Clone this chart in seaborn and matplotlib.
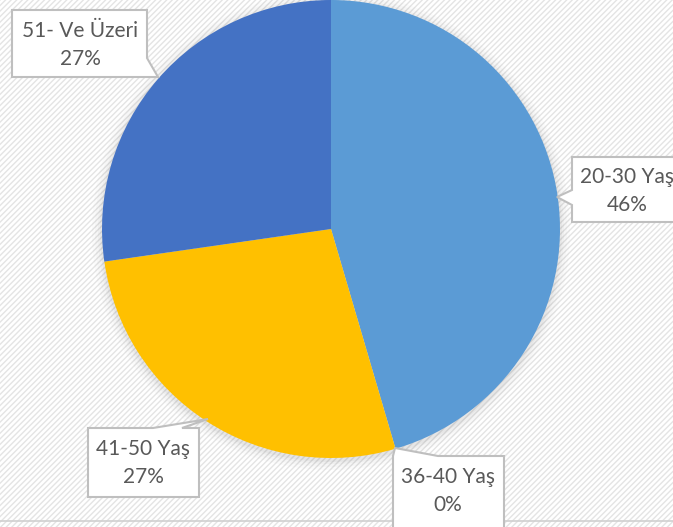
import matplotlib
matplotlib.use("Agg")
import matplotlib.pyplot as plt
import seaborn as sns
from matplotlib.patches import Rectangle, Polygon, Circle

# age groups and counts (shares 46 / 0 / 27 / 27 %)
labels = ["20-30 Yaş", "36-40 Yaş", "41-50 Yaş", "51- Ve Üzeri"]
counts = [5, 0, 3, 3]
pct_text = ["46%", "0%", "27%", "27%"]
colors = ["#5B9BD5", "#ED7D31", "#FFC000", "#4472C4"]

sns.set_theme(style="white")
plt.rcParams["font.family"] = ["Lato", "DejaVu Sans"]
plt.rcParams["hatch.linewidth"] = 1.0
plt.rcParams["hatch.color"] = "#e4e4e4"

W, H = 673, 527
fig = plt.figure(figsize=(W / 100, H / 100), dpi=100)
ax = fig.add_axes([0, 0, 1, 1])


def Y(y):
    return H - y


# striped background
ax.add_patch(Rectangle((0, 0), W, H, facecolor="white", edgecolor="#e4e4e4",
                       hatch="//////", linewidth=0, zorder=0))
ax.plot([0, W], [Y(521), Y(521)], color="#d0d0d0", lw=1.2, zorder=1)

cx, cy, r = 331, Y(229), 229

# soft shadow around the pie
for k, a in [(10, 0.03), (7, 0.04), (4, 0.06), (2, 0.08)]:
    ax.add_patch(Circle((cx, cy - 2), r + k, color="#808080", alpha=a, lw=0, zorder=1))

ax.pie(counts, colors=colors, startangle=90, counterclock=False,
       center=(cx, cy), radius=r, frame=True,
       wedgeprops=dict(linewidth=0, zorder=2))
ax.set_xlim(0, W)
ax.set_ylim(0, H)
ax.set_aspect("equal")
ax.axis("off")

# callout boxes: (outline polygon in pixel coords, text centre)
callouts = {
    "51- Ve Üzeri": ([(12, 10), (147, 10), (147, 58), (158, 77), (140, 77), (12, 77)], (80, 45)),
    "20-30 Yaş": ([(572, 157), (690, 157), (690, 222), (572, 222), (572, 205), (557, 197), (572, 190)], (627, 191)),
    "36-40 Yaş": ([(393, 456), (395, 448), (438, 456), (504, 456), (504, 540), (393, 540)], (448, 491)),
    "41-50 Yaş": ([(88, 428), (153, 428), (208, 419), (182, 428), (199, 428), (199, 497), (88, 497)], (143, 463)),
}

for lab, pct in zip(labels, pct_text):
    pts, (tx, ty) = callouts[lab]
    ax.add_patch(Polygon([(x, Y(y)) for x, y in pts], closed=True, facecolor="white",
                         edgecolor="#bfbfbf", linewidth=1.5, zorder=5))
    ax.text(tx, Y(ty), f"{lab}\n{pct}", ha="center", va="center", fontsize=15,
            color="#595959", linespacing=1.45, zorder=6)

fig.savefig("out.png", dpi=100)
